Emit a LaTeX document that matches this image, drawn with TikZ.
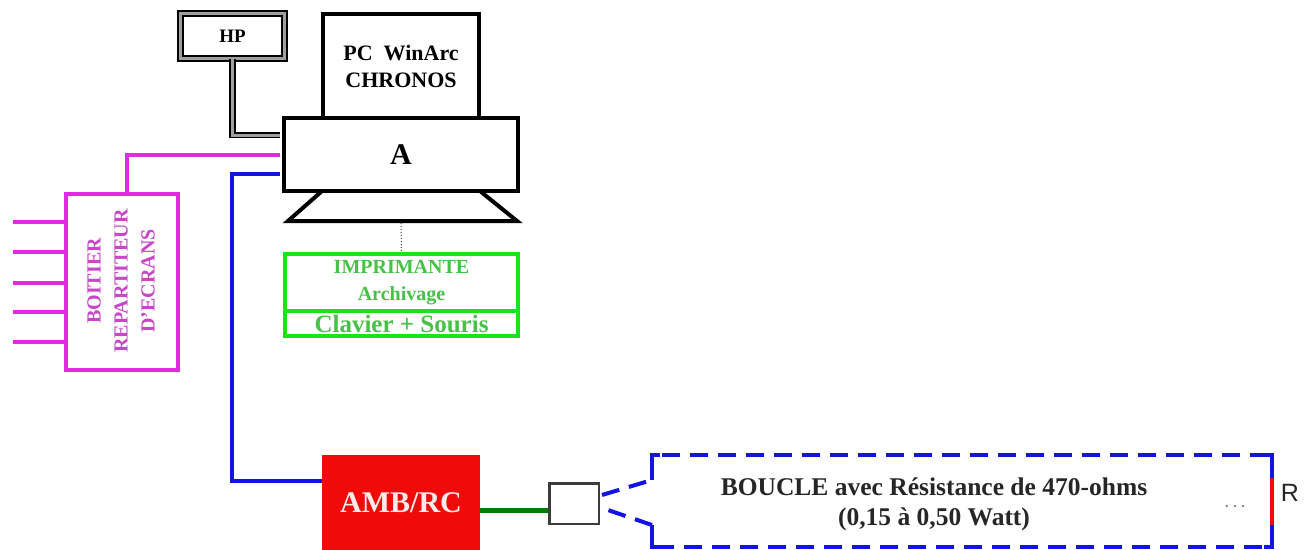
\documentclass[tikz,border=0pt]{standalone}
\usepackage{fontspec}
\setmainfont{Liberation Serif}
\newfontfamily\sansf{Liberation Sans}
\usetikzlibrary{calc}
\definecolor{mag}{RGB}{228,40,228}
\definecolor{magtext}{RGB}{200,70,200}
\definecolor{blu}{RGB}{20,20,225}
\definecolor{grn}{RGB}{25,228,25}
\definecolor{grntext}{RGB}{70,195,70}
\definecolor{dgrn}{RGB}{0,125,0}
\definecolor{rd}{RGB}{240,10,10}
\definecolor{dgray}{RGB}{60,60,60}
\tikzset{
  blackbox/.style={draw=black,line width=4pt,fill=white,inner sep=0pt},
  greenbox/.style={draw=grn,line width=4pt,fill=white,inner sep=0pt,text=grntext},
  magbox/.style={draw=mag,line width=4pt,fill=white,inner sep=0pt},
  dblline/.style={draw=black,line width=1.8pt,double=gray!75,double distance=3pt},
  magline/.style={draw=mag,line width=4pt},
  blueline/.style={draw=blu,line width=4pt},
  loopline/.style={draw=blu,line width=4pt,dash pattern=on 18pt off 10pt},
  loopsolid/.style={draw=blu,line width=4pt},
  greenline/.style={draw=dgrn,line width=5pt},
}
\begin{document}
\begin{tikzpicture}[x=1pt,y=-1pt]
\useasboundingbox[fill=white] (0,0) rectangle (1306,549);

% HP
\node[dblline,fill=white,minimum width=104pt,minimum height=45pt,inner sep=0pt,
      font=\bfseries\fontsize{19}{19}\selectfont] (hp) at (232.5,36) {HP};

% PC WinArc
\node[blackbox,minimum width=156pt,minimum height=104pt,align=center,
      font=\bfseries\fontsize{22}{27}\selectfont] (pc) at (401,66) {PC\ \ WinArc\\CHRONOS};

% stand
\coordinate (st1) at (322,191);
\coordinate (st2) at (288,221);
\coordinate (st3) at (517,221);
\coordinate (st4) at (480,191);
\draw[line width=4pt,line join=miter,fill=white] (st1) -- (st2) -- (st3) -- (st4);
\coordinate (standbot) at (401,223);

% A
\node[blackbox,minimum width=234pt,minimum height=73pt,
      font=\bfseries\fontsize{30}{30}\selectfont] (A) at (401,154.5) {A};

% green box
\node[greenbox,minimum width=233pt,minimum height=57pt,align=center,
      font=\bfseries\fontsize{20}{27}\selectfont] (imp) at (401.5,282.5) {IMPRIMANTE\\Archivage};
\node[greenbox,minimum width=233pt,minimum height=25pt,
      font=\bfseries\fontsize{25}{25}\selectfont] (clav) at (401.5,323.5) {Clavier + Souris};
\draw[dgray,line width=1pt,dotted] (standbot) -- (imp.north);

% boitier
\node[magbox,minimum width=112pt,minimum height=176pt] (boit) at (122,282) {};
\node[rotate=90,text=magtext,align=center,inner sep=0pt,
      font=\bfseries\fontsize{20}{27}\selectfont] (boittext) at (121,281) {BOITIER\\REPARTITEUR\\D'ECRANS};
\foreach \i/\yy in {1/222,2/252,3/283,4/312,5/342}{
  \coordinate (s\i) at (13,\yy);
  \draw[magline] (s\i) -- (s\i -| boit.west);
}

% connectors from A
\draw[dblline] (hp.south) |- ([yshift=19.5pt,xshift=-2pt]A.west);
\draw[magline] ([xshift=-2pt]A.west) -| ([xshift=5pt]boit.north);

% AMB/RC
\node[fill=rd,minimum width=158pt,minimum height=96pt,inner sep=0pt,text=white!92!red,
      font=\bfseries\fontsize{30}{30}\selectfont] (amb) at (401,503) {AMB/RC};
\coordinate (bcorner) at (232,481);
\draw[blueline,line join=miter] ([yshift=-19pt,xshift=-2pt]A.west) -| (bcorner) -- (bcorner -| amb.west);

% small box
\node[draw=dgray,line width=2.5pt,fill=white,minimum width=49.5pt,minimum height=40.5pt,inner sep=0pt] (sbox) at (574,503.5) {};
\draw[greenline] ([yshift=-7pt]amb.east) -- ([yshift=-7pt]amb.east -| sbox.west);

% loop
\coordinate (l1) at (652,480);
\coordinate (l2) at (652,455);
\coordinate (l3) at (1272,455);
\coordinate (l4) at (1272,547);
\coordinate (l5) at (652,547);
\coordinate (l6) at (652,525);
\draw[loopline,line join=miter] ([yshift=8.5pt,xshift=2pt]sbox.east) -- (l1);
\draw[loopsolid,line join=miter] (l1) -- (l2) -- ++(8,0);
\draw[loopline] ($(l2)+(10,0)$) -- (l3);
\draw[loopsolid,line join=miter] ($(l3)+(-8,0)$) -- (l3) -- (l4) -- ++(-8,0);
\draw[loopline] ($(l4)+(-10,0)$) -- (l5);
\draw[loopsolid,line join=miter] ($(l5)+(8,0)$) -- (l5) -- (l6);
\draw[loopline] (l6) -- ([yshift=-4.5pt,xshift=2pt]sbox.east);
\coordinate (r1) at (1272,478);
\coordinate (r2) at (1272,525);
\draw[draw=rd,line width=4.5pt] (r1) -- (r2);
\node[align=center,inner sep=0pt,text=black!85,
      font=\bfseries\fontsize{25.5}{30}\selectfont] (loopt) at (934,504) {BOUCLE avec Résistance de 470-ohms\\(0,15 à 0,50 Watt)};
\node[text=gray,inner sep=0pt,font=\bfseries\fontsize{14}{14}\selectfont] (dots) at (1235,507) {.\,\,.\,\,.};
\node[inner sep=0pt,text=black!85,font=\sansf\fontsize{25}{25}\selectfont] (R) at (1290,493) {R};
\end{tikzpicture}
\end{document}
